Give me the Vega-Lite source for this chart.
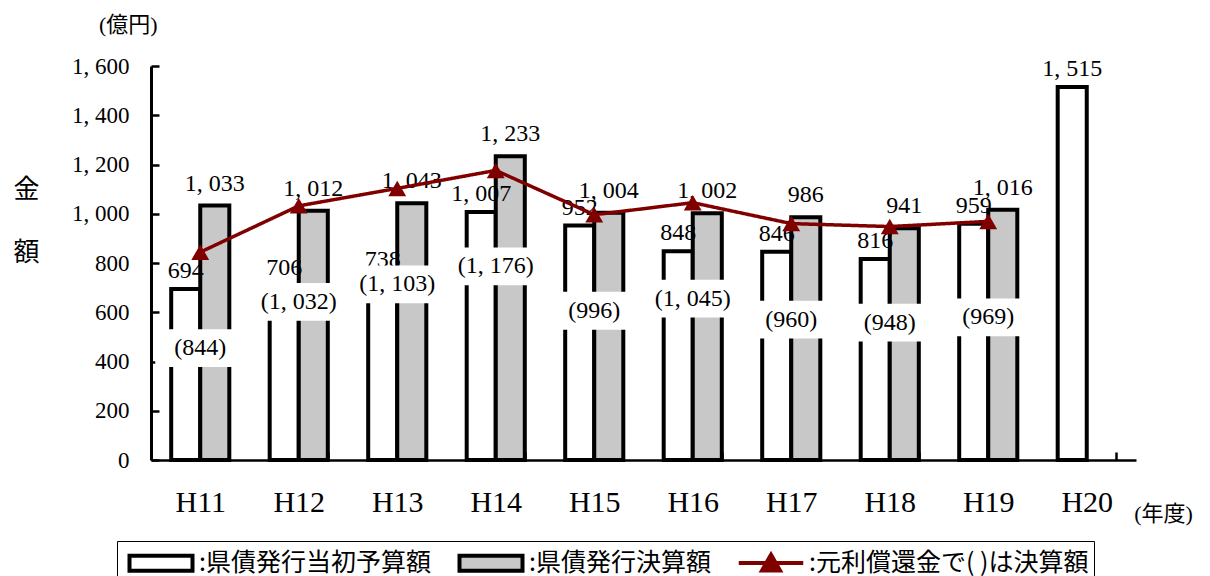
{
  "$schema": "https://vega.github.io/schema/vega-lite/v6.json",
  "width": 985,
  "height": 394,
  "autosize": "none",
  "padding": {"left": 151, "top": 66, "right": 74, "bottom": 116},
  "background": "white",
  "config": {
    "view": {"stroke": null},
    "font": "Liberation Serif, Noto Sans CJK JP",
    "axis": {"labelColor": "black", "titleColor": "black", "domainColor": "black", "tickColor": "black", "grid": false}
  },
  "title": {
    "text": "(億円)",
    "anchor": "start",
    "frame": "group",
    "dx": -52,
    "offset": 1,
    "baseline": "alphabetic",
    "fontSize": 22,
    "fontWeight": "normal",
    "color": "black",
    "font": "Liberation Serif, Noto Sans CJK JP"
  },
  "datasets": {
    "bars": [
      {"year": "H11", "type": "県債発行当初予算額", "value": 694},
      {"year": "H11", "type": "県債発行決算額", "value": 1033},
      {"year": "H12", "type": "県債発行当初予算額", "value": 706},
      {"year": "H12", "type": "県債発行決算額", "value": 1012},
      {"year": "H13", "type": "県債発行当初予算額", "value": 738},
      {"year": "H13", "type": "県債発行決算額", "value": 1043},
      {"year": "H14", "type": "県債発行当初予算額", "value": 1007},
      {"year": "H14", "type": "県債発行決算額", "value": 1233},
      {"year": "H15", "type": "県債発行当初予算額", "value": 952},
      {"year": "H15", "type": "県債発行決算額", "value": 1004},
      {"year": "H16", "type": "県債発行当初予算額", "value": 848},
      {"year": "H16", "type": "県債発行決算額", "value": 1002},
      {"year": "H17", "type": "県債発行当初予算額", "value": 846},
      {"year": "H17", "type": "県債発行決算額", "value": 986},
      {"year": "H18", "type": "県債発行当初予算額", "value": 816},
      {"year": "H18", "type": "県債発行決算額", "value": 941},
      {"year": "H19", "type": "県債発行当初予算額", "value": 959},
      {"year": "H19", "type": "県債発行決算額", "value": 1016},
      {"year": "H20", "type": "県債発行当初予算額", "value": 1515}
    ],
    "line": [
      {"year": "H11", "type": "元利償還金で( )は決算額", "value": 844},
      {"year": "H12", "type": "元利償還金で( )は決算額", "value": 1032},
      {"year": "H13", "type": "元利償還金で( )は決算額", "value": 1103},
      {"year": "H14", "type": "元利償還金で( )は決算額", "value": 1176},
      {"year": "H15", "type": "元利償還金で( )は決算額", "value": 996},
      {"year": "H16", "type": "元利償還金で( )は決算額", "value": 1045},
      {"year": "H17", "type": "元利償還金で( )は決算額", "value": 960},
      {"year": "H18", "type": "元利償還金で( )は決算額", "value": 948},
      {"year": "H19", "type": "元利償還金で( )は決算額", "value": 969}
    ]
  },
  "encoding": {
    "x": {
      "field": "year",
      "type": "nominal",
      "scale": {"domain": ["H11", "H12", "H13", "H14", "H15", "H16", "H17", "H18", "H19", "H20"], "paddingInner": 0.41, "paddingOuter": 0.205},
      "axis": {
        "title": "(年度)",
        "titleX": 1012,
        "titleY": 53,
        "titleAlign": "center",
        "titleBaseline": "middle",
        "titleFontSize": 22,
        "titleFontWeight": "normal",
        "labelAngle": 0,
        "labelFontSize": 30,
        "labelPadding": 35,
        "labelBaseline": "top",
        "tickSize": -8,
        "tickBand": "extent",
        "tickWidth": 2.5,
        "domainWidth": 2.5
      }
    },
    "y": {
      "field": "value",
      "type": "quantitative",
      "scale": {"domain": [0, 1600], "nice": false, "zero": true},
      "axis": {
        "title": ["金", "額"],
        "titleAngle": 0,
        "titleX": -125,
        "titleY": 131,
        "titleAlign": "center",
        "titleBaseline": "alphabetic",
        "titleLineHeight": 63,
        "titleFontSize": 26,
        "titleFontWeight": "normal",
        "values": [0, 200, 400, 600, 800, 1000, 1200, 1400, 1600],
        "labelExpr": "replace(format(datum.value, ','), ',', ', ')",
        "labelFontSize": 23,
        "labelPadding": 30,
        "tickSize": -8,
        "tickWidth": 2.5,
        "domainWidth": 3
      }
    }
  },
  "layer": [
    {
      "data": {"name": "bars"},
      "mark": {"type": "bar", "strokeWidth": 4, "strokeJoin": "miter"},
      "encoding": {
        "xOffset": {"field": "type", "type": "nominal", "scale": {"domain": ["県債発行当初予算額", "県債発行決算額"]}},
        "stroke": {
          "field": "type",
          "type": "nominal",
          "scale": {"domain": ["県債発行当初予算額", "県債発行決算額", "元利償還金で( )は決算額"], "range": ["black", "black", "white"]},
          "legend": {"title": null}
        },
        "fill": {
          "field": "type",
          "type": "nominal",
          "scale": {"domain": ["県債発行当初予算額", "県債発行決算額", "元利償還金で( )は決算額"], "range": ["white", "#c8c8c8", "white"]},
          "legend": {
            "title": null,
            "orient": "none",
            "legendX": -34,
            "legendY": 475,
            "direction": "horizontal",
            "columns": 3,
            "columnPadding": 20,
            "labelFontSize": 25,
            "labelFont": "Noto Sans CJK JP",
            "labelColor": "black",
            "labelLimit": 600,
            "labelOffset": 21,
            "labelExpr": "':' + datum.label",
            "symbolType": "M-2.1,-0.5L2.1,-0.5L2.1,0.5L-2.1,0.5Z",
            "symbolSize": 900,
            "symbolOffset": 22,
            "symbolStrokeWidth": 4,
            "symbolOpacity": 1,
            "strokeColor": "black",
            "padding": 5
          }
        }
      }
    },
    {
      "data": {"name": "bars"},
      "transform": [
        {"filter": "datum.type === '県債発行当初予算額'"},
        {"calculate": "replace(format(datum.value, ','), ',', ', ')", "as": "label"}
      ],
      "mark": {"type": "text", "baseline": "alphabetic", "dy": -11, "fontSize": 24, "color": "black"},
      "encoding": {
        "xOffset": {"field": "type", "type": "nominal"},
        "text": {"field": "label"}
      }
    },
    {
      "data": {"name": "bars"},
      "transform": [
        {"filter": "datum.type === '県債発行決算額'"},
        {"calculate": "replace(format(datum.value, ','), ',', ', ')", "as": "label"}
      ],
      "mark": {"type": "text", "baseline": "alphabetic", "dy": -15, "fontSize": 24, "color": "black"},
      "encoding": {
        "xOffset": {"field": "type", "type": "nominal"},
        "text": {"field": "label"}
      }
    },
    {
      "data": {"name": "line"},
      "mark": {"type": "point", "shape": "M-1,-0.42L1,-0.42L1,0.42L-1,0.42Z", "size": 8100, "filled": true, "color": "white", "opacity": 1, "yOffset": 96}
    },
    {
      "data": {"name": "line"},
      "transform": [
        {"calculate": "'(' + replace(format(datum.value, ','), ',', ', ') + ')'", "as": "label"}
      ],
      "mark": {"type": "text", "baseline": "middle", "dy": 96, "fontSize": 24, "color": "black"},
      "encoding": {"text": {"field": "label"}}
    },
    {
      "data": {"name": "line"},
      "mark": {"type": "line", "color": "#800000", "strokeWidth": 3.5},
      "encoding": {
        "strokeDash": {
          "field": "type",
          "type": "nominal",
          "scale": {"domain": ["元利償還金で( )は決算額"], "range": [[1, 0]]},
          "legend": {
            "title": null,
            "orient": "none",
            "legendX": 603,
            "legendY": 480,
            "labelExpr": "''",
            "labelOffset": 0,
            "symbolType": "M-2.15,0L2.15,0M-0.6,0.5L0,-0.55L0.6,0.5Z",
            "symbolSize": 900,
            "symbolOffset": 0,
            "symbolStrokeColor": "#800000",
            "symbolFillColor": "#800000",
            "symbolStrokeWidth": 4,
            "symbolOpacity": 1,
            "padding": 0
          }
        }
      }
    },
    {
      "data": {"name": "line"},
      "mark": {"type": "point", "shape": "triangle-up", "filled": true, "size": 320, "opacity": 1, "color": "#800000"}
    }
  ]
}
